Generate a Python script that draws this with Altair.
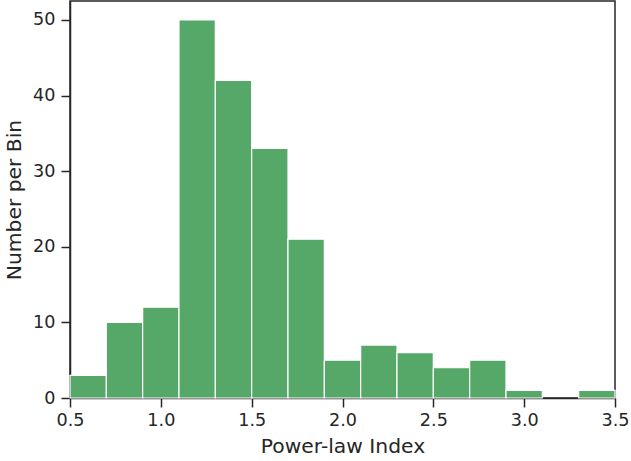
import altair as alt
import pandas as pd

bin_start = [0.5, 0.7, 0.9, 1.1, 1.3, 1.5, 1.7, 1.9, 2.1, 2.3, 2.5, 2.7, 2.9, 3.1, 3.3]
bin_end = [0.7, 0.9, 1.1, 1.3, 1.5, 1.7, 1.9, 2.1, 2.3, 2.5, 2.7, 2.9, 3.1, 3.3, 3.5]
counts = [3, 10, 12, 50, 42, 33, 21, 5, 7, 6, 4, 5, 1, 0, 1]

df = pd.DataFrame({"start": bin_start, "end": bin_end, "count": counts})

chart = alt.Chart(df).transform_filter(
    "datum.count > 0"
).mark_rect(
    color="#55a868", stroke="white", strokeWidth=1.2
).encode(
    x=alt.X("start:Q", scale=alt.Scale(domain=[0.5, 3.5], nice=False, zero=False),
            axis=alt.Axis(title="Power-law Index", values=[0.5, 1.0, 1.5, 2.0, 2.5, 3.0, 3.5],
                          format=".1f", grid=False, labelPadding=4, titlePadding=8,
                          labelFlush=False)),
    x2="end:Q",
    y=alt.Y("count:Q", scale=alt.Scale(domain=[0, 52.5], nice=False),
            axis=alt.Axis(title="Number per Bin", values=[0, 10, 20, 30, 40, 50], grid=False,
                          labelPadding=6, titlePadding=8, labelFlush=False)),
    y2=alt.datum(0),
).properties(
    width=545, height=397,
    autosize=alt.AutoSizeParams(type="none"),
    padding={"left": 70, "top": 1, "right": 16, "bottom": 63},
).configure_view(
    stroke="#262626", strokeWidth=1.5, fill="white"
).configure_axis(
    labelFont="DejaVu Sans", titleFont="DejaVu Sans",
    labelFontSize=17.6, titleFontSize=20.3, labelColor="#262626", titleColor="#262626",
    titleFontWeight="normal", domainColor="#262626", domainWidth=1.5,
    tickColor="#262626", tickWidth=1.5, tickSize=9,
)

chart.save("out.html", embed_options={"renderer": "svg", "actions": False})
